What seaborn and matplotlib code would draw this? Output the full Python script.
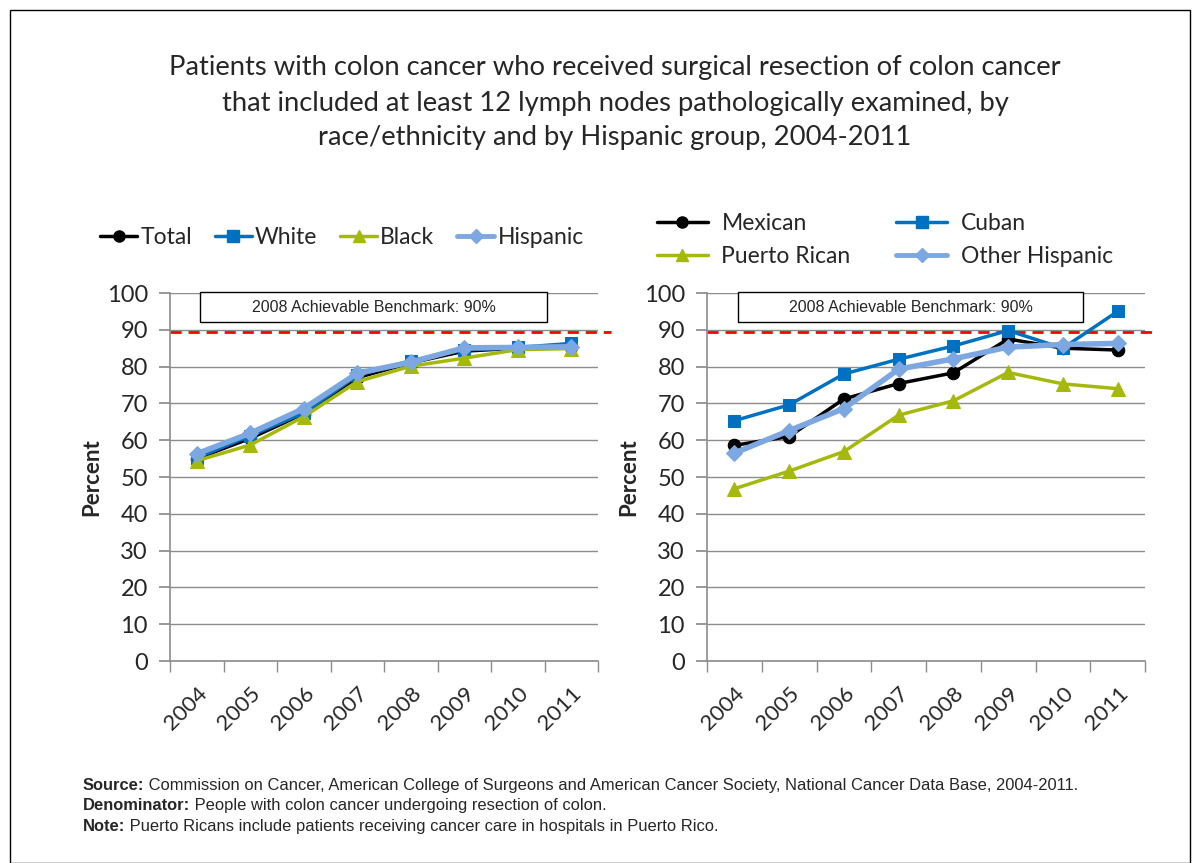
import pandas as pd
import seaborn as sns
import matplotlib.pyplot as plt
from matplotlib.patches import Rectangle
from matplotlib.lines import Line2D

years = [2004, 2005, 2006, 2007, 2008, 2009, 2010, 2011]

total = [55.0, 60.5, 67.2, 77.0, 81.0, 84.2, 85.0, 85.3]
white = [55.2, 61.2, 67.4, 77.6, 81.6, 84.6, 85.2, 86.3]
black = [54.4, 58.7, 66.4, 75.9, 80.1, 82.3, 84.6, 84.9]
hispanic = [56.3, 61.9, 68.6, 78.2, 81.2, 85.1, 85.2, 85.4]

mexican = [58.6, 61.0, 71.2, 75.4, 78.3, 87.5, 85.0, 84.5]
cuban = [65.3, 69.6, 78.0, 82.0, 85.6, 89.8, 85.0, 95.0]
puerto_rican = [46.8, 51.6, 56.9, 66.8, 70.7, 78.4, 75.3, 74.0]
other_hispanic = [56.5, 62.6, 68.6, 79.3, 82.1, 85.3, 86.0, 86.3]

benchmark = 89.5
benchmark_label = "2008 Achievable Benchmark: 90%"

left_series = [("Total", total), ("White", white), ("Black", black), ("Hispanic", hispanic)]
right_series = [("Mexican", mexican), ("Cuban", cuban), ("Puerto Rican", puerto_rican),
                ("Other Hispanic", other_hispanic)]

# colour, marker, line width, marker size
styles = [("#000000", "o", 2.5, 9), ("#0070C0", "s", 2.5, 9),
          ("#A5B80C", "^", 2.5, 10), ("#7DA7E0", "D", 4.0, 8)]

sns.set_theme(style="white")
plt.rcParams["font.family"] = ["Lato", "DejaVu Sans"]

fig = plt.figure(figsize=(11.96, 8.63), dpi=100)
fig.patches.append(Rectangle((10 / 1196, 0.0), 1180 / 1196, 853 / 863, transform=fig.transFigure,
                             fill=False, edgecolor="black", linewidth=1))

ax1 = fig.add_axes([170 / 1196, 1 - 661 / 863, 428 / 1196, 368 / 863])
ax2 = fig.add_axes([707 / 1196, 1 - 661 / 863, 438 / 1196, 368 / 863])


def draw_panel(ax, series, box_x, box_w):
    for (name, vals), (col, mk, lw, ms) in zip(series, styles):
        df = pd.DataFrame({"year": years, "pct": vals})
        sns.lineplot(data=df, x="year", y="pct", ax=ax, color=col, marker=mk,
                     linewidth=lw, markersize=ms, markeredgecolor=col, label=name, zorder=3)
    ax.axhline(benchmark, color="#FF0000", linestyle=(0, (4, 2.5)), linewidth=2, zorder=2,
               xmin=0, xmax=1.03, clip_on=False)
    ax.set_xlim(2003.5, 2011.5)
    ax.set_ylim(0, 100)
    ax.set_yticks(range(0, 101, 10))
    ax.yaxis.grid(True, color="#8C8C8C", linewidth=1)
    ax.set_axisbelow(True)
    ax.set_xticks(years)
    ax.set_xticks([y + 0.5 for y in [2003] + years], minor=True)
    ax.set_xticklabels([str(y) for y in years], rotation=45, ha="right",
                       rotation_mode="anchor", fontsize=16)
    ax.tick_params(axis="x", which="major", length=0, pad=16)
    ax.tick_params(axis="x", which="minor", length=8, color="#8C8C8C", direction="out", bottom=True)
    ax.tick_params(axis="y", labelsize=17, length=8, color="#8C8C8C", left=True, pad=8)
    for s in ["top", "right"]:
        ax.spines[s].set_visible(False)
    for s in ["left", "bottom"]:
        ax.spines[s].set_color("#8C8C8C")
        ax.spines[s].set_linewidth(1.2)
    ax.set_xlabel("")
    ax.set_ylabel("Percent", fontsize=16, fontweight="bold", labelpad=3)
    ax.add_patch(Rectangle((box_x, 0.921), box_w, 0.0815, transform=ax.transAxes,
                           facecolor="white", edgecolor="black", linewidth=1, clip_on=False, zorder=4))
    ax.text(box_x + box_w / 2, 0.9615, benchmark_label, transform=ax.transAxes, ha="center",
            va="center", fontsize=11.5, family=["Liberation Sans"], zorder=5)
    ax.get_legend().remove()


draw_panel(ax1, left_series, 0.070, 0.811)
draw_panel(ax2, right_series, 0.071, 0.788)


def handles(series):
    return [Line2D([], [], color=c, marker=m, linewidth=lw if lw < 3 else 3.5, markersize=ms - 1)
            for (_, _), (c, m, lw, ms) in zip(series, styles)]


fig.legend(handles(left_series), [n for n, _ in left_series], loc="center",
           bbox_to_anchor=(342 / 1196, 1 - 238 / 863), ncol=4, frameon=False, fontsize=16.5,
           handlelength=1.6, handletextpad=0.15, columnspacing=1.0)

# legend fills column-wise, so reorder to get Mexican/Cuban on the first row
rh = handles(right_series)
order = [0, 2, 1, 3]
fig.legend([rh[i] for i in order], [right_series[i][0] for i in order], loc="center",
           bbox_to_anchor=(885 / 1196, 1 - 240 / 863), ncol=2, frameon=False, fontsize=16.5,
           handlelength=2.2, handletextpad=0.6, columnspacing=2.0, labelspacing=0.55)

fig.text(615 / 1196, 1 - 103 / 863,
         "Patients with colon cancer who received surgical resection of colon cancer\n"
         "that included at least 12 lymph nodes pathologically examined, by\n"
         "race/ethnicity and by Hispanic group, 2004-2011",
         ha="center", va="center", fontsize=19.7, linespacing=1.5)

notes = [("Source:", " Commission on Cancer, American College of Surgeons and American Cancer Society, "
                     "National Cancer Data Base, 2004-2011."),
         ("Denominator:", " People with colon cancer undergoing resection of colon."),
         ("Note:", " Puerto Ricans include patients receiving cancer care in hospitals in Puerto Rico.")]
renderer = fig.canvas.get_renderer()
for i, (head, body) in enumerate(notes):
    yy = 1 - (785 + i * 20.5) / 863
    t = fig.text(83 / 1196, yy, head, fontsize=11.9, fontweight="bold",
                 family=["Liberation Sans"], va="center")
    bb = t.get_window_extent(renderer)
    fig.text(bb.x1 / fig.bbox.width, yy, body, fontsize=11.9, family=["Liberation Sans"], va="center")

fig.savefig("out.png", dpi=100)
